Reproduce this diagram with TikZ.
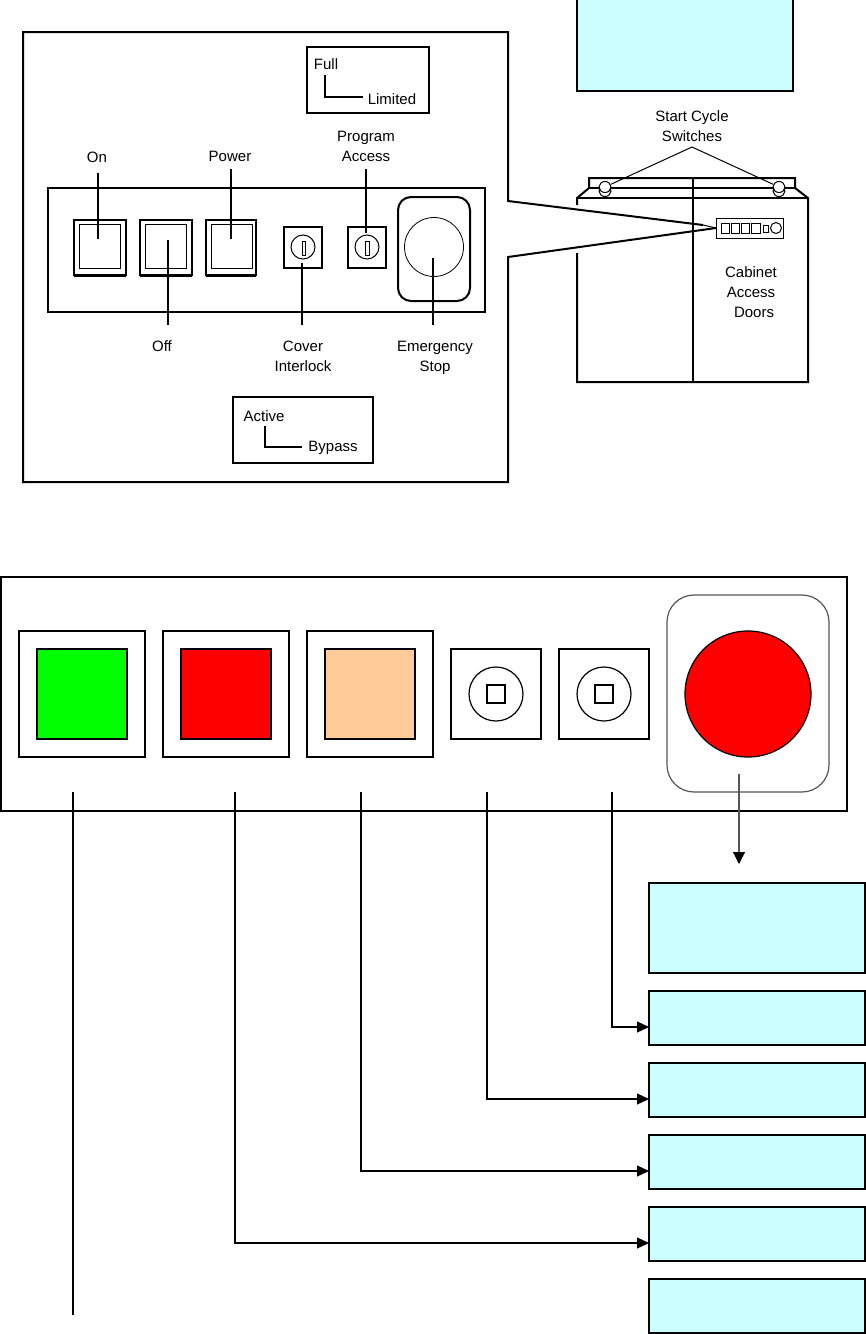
\documentclass[tikz,border=0pt]{standalone}
\usepackage{fontspec}
\setmainfont{Liberation Sans}
\usetikzlibrary{arrows.meta}
\definecolor{pale}{HTML}{CCFFFF}
\definecolor{peach}{HTML}{FFCC99}
\definecolor{grayline}{HTML}{555555}
\newcommand{\bx}[6][]{\node[boxbase,#1,minimum width={(#5)-(#3)},minimum height={(#6)-(#4)}] (#2) at ({((#3)+(#5))/2},{((#4)+(#6))/2}) {};}
\tikzset{
 x=1pt,y=-1pt,
 boxbase/.style={draw=black,line width=2pt,inner sep=0pt,outer sep=0pt,shape=rectangle},
 thin box/.style={line width=1pt},
 filledpale/.style={fill=pale},
 roundc/.style={circle,draw=black,line width=1pt,inner sep=0pt,outer sep=0pt},
 lbl/.style={inner sep=0pt,outer sep=0pt,align=center,font=\fontsize{15}{20}\selectfont},
 leader/.style={draw=black,line width=1.2pt},
 heavy/.style={draw=black,line width=2pt},
 arr/.style={draw=black,line width=1.2pt,-{Triangle[length=12pt,width=11pt]}},
 capswitch/.style={draw=black,line width=1pt,fill=white,shape=ellipse,inner sep=0pt,minimum width=12pt,minimum height=11pt},
}
\usetikzlibrary{shapes.geometric}
\begin{document}
\begin{tikzpicture}
\useasboundingbox (0,0) rectangle (866,1334);
% top cyan box
\bx[filledpale]{topbox}{577}{-3}{793}{91}
% cabinet
\coordinate (cTL) at (589,178); \coordinate (cTR) at (795,178);
\coordinate (cML) at (589,188); \coordinate (cMR) at (795,188);
\coordinate (cSL) at (577,198); \coordinate (cSR) at (808,198);
\coordinate (cBL) at (577,382); \coordinate (cBR) at (808,382);
\coordinate (cTC) at (693,178); \coordinate (cBC) at (693,382);
\coordinate (cGapA) at (577,205); \coordinate (cGapB) at (577,253);
\draw[heavy] (cGapA) -- (cSL) -- (cML) -- (cTL) -- (cTR) -- (cMR) -- (cSR) -- (cBR) -- (cBL) -- (cGapB);
\draw[heavy] (cTC) -- (cBC);
\draw[leader] (cML) -- (cMR);
\draw[leader] (cSL) -- (cSR);
\node[capswitch] (swLb) at (605,191) {};
\node[capswitch] (swRb) at (779,191) {};
\node[capswitch] (swL) at (605,187) {};
\node[capswitch] (swR) at (779,187) {};
\node[lbl] (startlbl) at (692,126) {Start Cycle\\Switches};
\coordinate (apex) at (692,147);
\draw[line width=1pt] (swL) -- (apex) -- (swR);
\node[lbl] (cablbl) at (751,292) {Cabinet\\Access\\\hspace{6pt}Doors};
% miniature panel
\bx[thin box,fill=white]{mini}{716}{218}{783}{238}
\bx[thin box]{m1}{721}{223}{729}{233}
\bx[thin box]{m2}{731}{223}{739}{233}
\bx[thin box]{m3}{741}{223}{749}{233}
\bx[thin box]{m4}{751}{223}{760}{233}
\bx[thin box]{m5}{763}{225}{768}{232}
\node[roundc,minimum size=11pt] (m6) at (776,228) {};
% upper large frame
\coordinate (fA) at (508,201);
\coordinate (fTR) at (508,32); \coordinate (fTL) at (23,32);
\coordinate (fBL) at (23,482); \coordinate (fBR) at (508,482);
\coordinate (fC) at (508,257);
\coordinate (wHeavy) at (703,225);
\draw[heavy] (wHeavy) -- (fA) -- (fTR) -- (fTL) -- (fBL) -- (fBR) -- (fC) -- (mini.west);
\draw[line width=1pt] (wHeavy) -- (mini.west);
% key boxes
\bx{fullbox}{307}{47}{429}{113}
\node[lbl,anchor=center] (full) at (326,64) {Full};
\node[lbl] (limited) at (392,99) {Limited};
\coordinate (fullbend) at (325,97);
\coordinate (fulltop) at (325,75);
\coordinate (fullend) at (363,97);
\draw[leader] (fulltop) -- (fullbend) -- (fullend);
\bx{activebox}{233}{397}{373}{463}
\node[lbl] (active) at (264,416) {Active};
\node[lbl] (bypass) at (333,448) {Bypass};
\coordinate (acttop) at (265,426);
\coordinate (actbend) at (265,447);
\coordinate (actend) at (302,447);
\draw[leader] (acttop) -- (actbend) -- (actend);
% small panel
\bx{panel}{48}{188}{485}{312}
\bx{sOn}{74}{220}{126}{275}
\bx[line width=1pt]{sOnI}{79}{224}{120}{268}
\bx{sOff}{140}{220}{192}{275}
\bx[line width=1pt]{sOffI}{145}{224}{186}{268}
\bx{sPow}{206}{220}{256}{275}
\bx[line width=1pt]{sPowI}{211}{224}{252}{268}
\draw[line width=3pt] (sOn.south west) -- (sOn.south east);
\draw[line width=3pt] (sOff.south west) -- (sOff.south east);
\draw[line width=3pt] (sPow.south west) -- (sPow.south east);
\bx{kA}{284}{227}{322}{268}
\node[roundc,minimum size=24pt] (kAc) at (303,247) {};
\bx[line width=1pt]{kAs}{302}{241}{305}{255}
\bx{kB}{348}{227}{386}{268}
\node[roundc,minimum size=24pt] (kBc) at (367,247) {};
\bx[line width=1pt]{kBs}{365}{241}{369}{255}
\draw[heavy,rounded corners=13pt] (398,197) rectangle (470,301);
\node[roundc,minimum size=59pt,line width=.8pt] (eC) at (434,247) {};
% labels and leaders
\node[lbl] (lOn) at (97,157) {On};
\node[lbl] (lPow) at (230,156) {Power};
\node[lbl] (lProg) at (366,146) {Program\\Access};
\node[lbl] (lOff) at (162,346) {Off};
\node[lbl] (lCov) at (303,356) {Cover\\Interlock};
\node[lbl] (lEm) at (435,358) {Emergency\\Stop};
\coordinate (tOnA) at (98,173); \coordinate (tOnB) at (98,239);
\coordinate (tPowA) at (231,169); \coordinate (tPowB) at (231,239);
\coordinate (tProA) at (366,169); \coordinate (tProB) at (366,233);
\coordinate (tOffA) at (168,325); \coordinate (tOffB) at (168,240);
\coordinate (tCovA) at (302,325); \coordinate (tCovB) at (302,263);
\coordinate (tEmA) at (433,325); \coordinate (tEmB) at (433,258);
\draw[leader] (tOnA) -- (tOnB);
\draw[leader] (tPowA) -- (tPowB);
\draw[leader] (tProA) -- (tProB);
\draw[leader] (tOffA) -- (tOffB);
\draw[leader] (tCovA) -- (tCovB);
\draw[leader] (tEmA) -- (tEmB);
% lower panel
\bx{bigpanel}{1}{577}{847}{811}
\bx{oG}{19}{631}{145}{757}
\bx[fill=green]{iG}{37}{649}{127}{739}
\bx{oR}{163}{631}{289}{757}
\bx[fill=red]{iR}{181}{649}{271}{739}
\bx{oP}{307}{631}{433}{757}
\bx[fill=peach]{iP}{325}{649}{415}{739}
\bx{k1}{451}{649}{541}{739}
\node[roundc,line width=1.2pt,minimum size=54pt] (k1c) at (496,694) {};
\bx{k1s}{487}{685}{505}{703}
\bx{k2}{559}{649}{649}{739}
\node[roundc,line width=1.2pt,minimum size=54pt] (k2c) at (604,694) {};
\bx{k2s}{595}{685}{613}{703}
\draw[draw=grayline,line width=1.2pt,rounded corners=27pt] (667,595) rectangle (829,792);
\node[roundc,fill=red,line width=1.2pt,minimum size=126pt] (stopbtn) at (748,694) {};
% result boxes
\bx[filledpale]{r0}{649}{883}{865}{973}
\bx[filledpale]{r1}{649}{991}{865}{1045}
\bx[filledpale]{r2}{649}{1063}{865}{1117}
\bx[filledpale]{r3}{649}{1135}{865}{1189}
\bx[filledpale]{r4}{649}{1207}{865}{1261}
\bx[filledpale]{r5}{649}{1279}{865}{1333}
% connectors
\coordinate (dA) at (612,792); \coordinate (dB) at (487,792);
\coordinate (dC) at (361,792); \coordinate (dD) at (235,792);
\coordinate (dE) at (73,792); \coordinate (dEend) at (73,1315);
\coordinate (dF) at (739,774); \coordinate (dFend) at (739,864);
\draw[arr] (dA) |- ([yshift=-9pt]r1.west);
\draw[arr] (dB) |- ([yshift=-9pt]r2.west);
\draw[arr] (dC) |- ([yshift=-9pt]r3.west);
\draw[arr] (dD) |- ([yshift=-9pt]r4.west);
\draw[leader] (dE) -- (dEend);
\draw[arr,draw=grayline,-{Triangle[length=12pt,width=12pt,color=black]}] (dF) -- (dFend);
\end{tikzpicture}
\end{document}
